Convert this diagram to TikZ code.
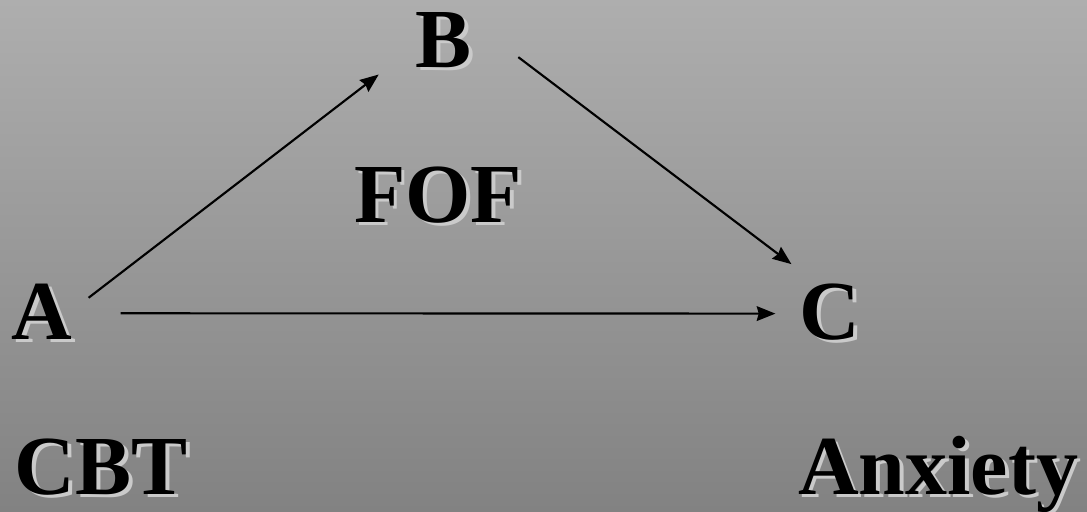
\documentclass[tikz,border=0pt]{standalone}
\usepackage{fontspec}
\setmainfont{Liberation Serif}
\usepackage{tikz}
\usetikzlibrary{arrows.meta,calc}
\usepackage{xcolor}
\definecolor{bgtop}{RGB}{174,174,174}
\definecolor{bgbot}{RGB}{130,130,130}
\definecolor{shadowgray}{RGB}{202,202,202}
\newcommand\shadowed[1]{\makebox[0pt][l]{\kern2.8pt\raisebox{-2.6pt}[0pt][0pt]{\textcolor{shadowgray}{#1}}}#1}
\tikzset{
  lbl/.style = {inner sep=0pt, anchor=base, text=black,
                font=\bfseries\fontsize{63}{63}\selectfont},
  arr/.style = {-{Stealth[length=14pt, width=11pt, inset=1.5pt]}, line width=1.6pt, draw=black},
}

\begin{document}
\begin{tikzpicture}[x=0.75pt, y=-0.75pt]

%% background
\shade[top color=bgtop, bottom color=bgbot] (0,0) rectangle (1087,511);
\useasboundingbox (0,0) rectangle (1087,511);

%% triangle corners
\node[lbl] (a)   at (42,339)  {\shadowed{A}};
\node[lbl] (b)   at (444,67)  {\shadowed{B}};
\node[lbl] (c)   at (830,339) {\shadowed{C}};
\node[lbl] (fof) at (438,222) {\shadowed{FOF}};

%% captions
\node[lbl] (cbt)  at (101,494) {\shadowed{CBT}};
\node[lbl] (anx)  at (938,494) {\shadowed{Anxiety}};

\draw[arr] ($(a.east)+(16,-13.5)$) -- ($(b.south west)+(-37,7)$);
\draw[arr] ($(b.east)+(46,17.5)$)  -- ($(c.north west)+(-8,-19)$);
\draw[arr] ($(a.east)+(48,2)$)     -- ($(c.west)+(-24,2)$);

\end{tikzpicture}
\end{document}
